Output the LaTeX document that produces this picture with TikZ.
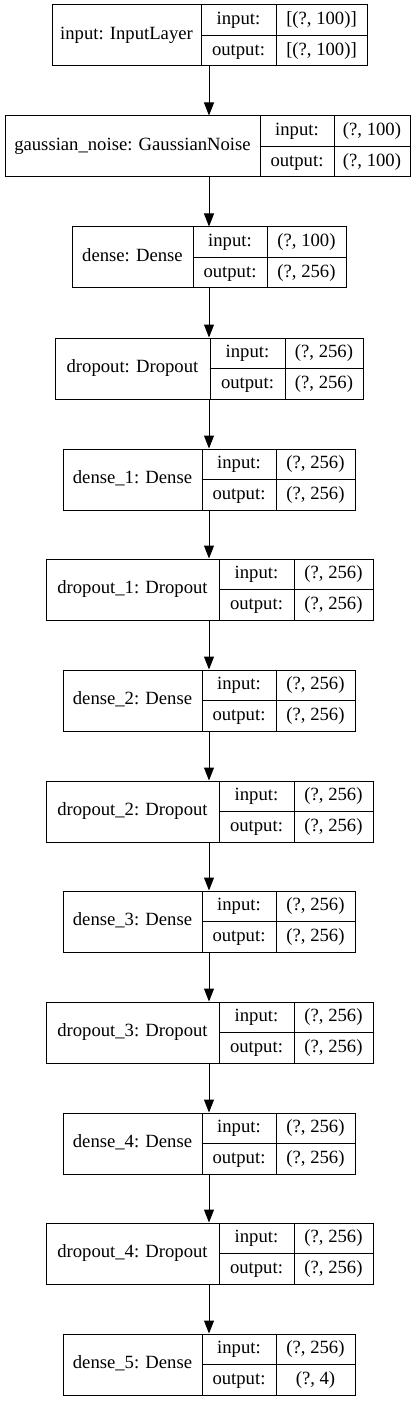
\documentclass[tikz,border=0pt]{standalone}
\usepackage{fontspec}
\setmainfont{Liberation Serif}
\usetikzlibrary{arrows.meta,fit}
\tikzset{
  boxframe/.style={draw=black, line width=0.75pt, inner sep=0pt},
  cellline/.style={draw=black, line width=0.75pt},
  celltext/.style={inner sep=0pt, text height=9.5pt, text depth=3pt, font=\fontsize{14}{16}\selectfont},
  flow/.style={draw=black, line width=0.75pt, -{Triangle[length=9.75pt,width=7.5pt]}}
}
% #1 name, #2 label, #3 left, #4 div1, #5 div2, #6 right, #7 top, #8 input shape, #9 output shape
\newcommand\mylayer[9]{%
  \node[boxframe, fit={(#3,#7) (#6,#7+61)}] (#1) {};
  \draw[cellline] (#4,#7) -- (#4,#7+61);
  \draw[cellline] (#5,#7) -- (#5,#7+61);
  \draw[cellline] (#4,#7+30.5) -- (#6,#7+30.5);
  \node[celltext] (#1-l) at ({(#3+#4)/2},#7+30.5) {#2};
  \node[celltext] (#1-ik) at ({(#4+#5)/2},#7+15.25) {input:};
  \node[celltext] (#1-ok) at ({(#4+#5)/2},#7+45.75) {output:};
  \node[celltext] (#1-iv) at ({(#5+#6)/2},#7+15.25) {#8};
  \node[celltext] (#1-ov) at ({(#5+#6)/2},#7+45.75) {#9};
}
\begin{document}
\begin{tikzpicture}[x=0.75pt,y=-0.75pt]
\useasboundingbox (0,0) rectangle (419,1401);
\fill[white] (0,0) rectangle (419,1401);
\coordinate (ax) at (209,0);
\mylayer{n0}{input: InputLayer}{52}{201}{276}{367}{5}{[(?, 100)]}{[(?, 100)]}
\mylayer{n1}{gaussian\_noise: GaussianNoise}{5}{260}{334}{410}{116}{(?, 100)}{(?, 100)}
\mylayer{n2}{dense: Dense}{72}{193}{267}{346}{227}{(?, 100)}{(?, 256)}
\mylayer{n3}{dropout: Dropout}{55}{210}{285}{363}{338}{(?, 256)}{(?, 256)}
\mylayer{n4}{dense\_1: Dense}{63}{202}{276}{355}{449}{(?, 256)}{(?, 256)}
\mylayer{n5}{dropout\_1: Dropout}{46}{219}{294}{373}{559}{(?, 256)}{(?, 256)}
\mylayer{n6}{dense\_2: Dense}{63}{202}{276}{355}{670}{(?, 256)}{(?, 256)}
\mylayer{n7}{dropout\_2: Dropout}{46}{219}{294}{373}{781}{(?, 256)}{(?, 256)}
\mylayer{n8}{dense\_3: Dense}{63}{202}{276}{355}{891}{(?, 256)}{(?, 256)}
\mylayer{n9}{dropout\_3: Dropout}{46}{219}{294}{373}{1002}{(?, 256)}{(?, 256)}
\mylayer{n10}{dense\_4: Dense}{63}{202}{276}{355}{1113}{(?, 256)}{(?, 256)}
\mylayer{n11}{dropout\_4: Dropout}{46}{219}{294}{373}{1223}{(?, 256)}{(?, 256)}
\mylayer{n12}{dense\_5: Dense}{63}{202}{276}{355}{1334}{(?, 256)}{(?, 4)}
\foreach \a/\b in {n0/n1,n1/n2,n2/n3,n3/n4,n4/n5,n5/n6,n6/n7,n7/n8,n8/n9,n9/n10,n10/n11,n11/n12}
  \draw[flow] (\a.south -| ax) -- (\b.north -| ax);
\end{tikzpicture}
\end{document}
